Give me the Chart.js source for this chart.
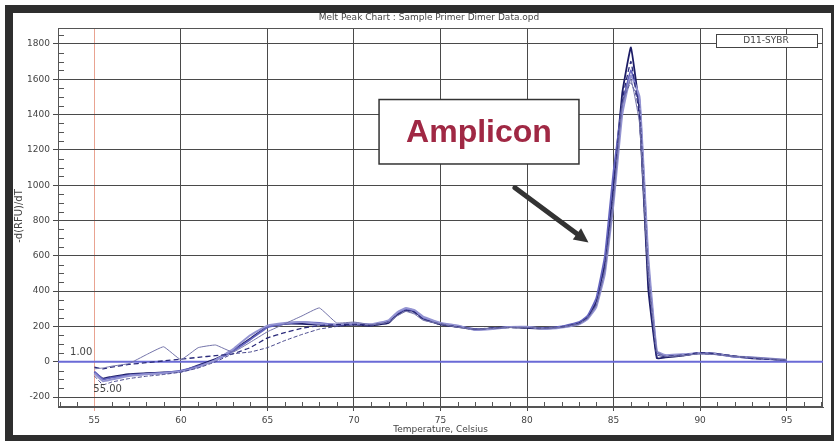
<!DOCTYPE html>
<html>
<head>
<meta charset="utf-8">
<title>Melt Peak Chart</title>
<script src="https://cdn.jsdelivr.net/npm/chart.js@4.4.1/dist/chart.umd.min.js"></script>
<style>
  html, body { margin: 0; padding: 0; background: #fff; }
  #wrap { width: 838px; height: 441px; }
</style>
</head>
<body>
<div id="wrap"><canvas id="meltChart" width="838" height="441"></canvas></div>
<script>
// temperature steps (finer around the melt peak)
const temps = [55, 55.5, 56, 57, 58, 59, 60, 61, 62, 63, 64, 65, 66, 67, 68, 69, 70, 71, 72, 72.5, 73, 73.5, 74,
  75, 76, 77, 78, 79, 80, 81, 82, 83, 83.5, 84, 84.5, 85, 85.5, 86, 86.5, 87, 87.5, 88, 89, 90, 91, 92, 93, 94, 95];

// -d(RFU)/dT for each replicate
const curveA = [-40, -35, -25, -10, 40, 85, 12, 80, 95, 55, 110, 170, 215, 260, 305, 220, 225, 210, 225, 260, 285, 270, 235,
  215, 195, 185, 190, 195, 195, 190, 195, 215, 245, 320, 520, 920, 1450, 1600, 1350, 500, 60, 30, 35, 45, 40, 30, 25, 18, 10];
const curveB = [-60, -95, -85, -70, -65, -60, -55, -20, 15, 65, 130, 200, 215, 215, 210, 205, 210, 205, 220, 270, 295, 285, 245,
  212, 198, 182, 190, 196, 192, 188, 198, 220, 255, 340, 560, 1000, 1520, 1780, 1420, 420, 20, 25, 35, 50, 45, 30, 20, 15, 10];
const curveC = [-55, -100, -90, -75, -68, -62, -50, -25, 10, 60, 125, 195, 215, 225, 220, 210, 215, 210, 230, 275, 300, 290, 250,
  218, 202, 186, 188, 198, 196, 192, 200, 225, 260, 360, 600, 1080, 1450, 1650, 1480, 560, 50, 35, 40, 48, 42, 28, 22, 16, 8];
const curveD = [-30, -40, -30, -15, -5, 5, 15, 25, 35, 45, 80, 135, 165, 190, 205, 210, 212, 208, 225, 265, 290, 280, 240,
  213, 198, 184, 192, 194, 193, 190, 197, 218, 250, 330, 540, 980, 1480, 1700, 1380, 460, 25, 30, 38, 52, 44, 32, 20, 14, 10];
const curveE = [-80, -130, -115, -95, -82, -72, -58, -35, 0, 45, 55, 80, 120, 155, 185, 200, 208, 204, 222, 262, 288, 275, 238,
  210, 196, 183, 189, 195, 194, 189, 196, 216, 248, 325, 530, 960, 1470, 1580, 1450, 520, 40, 28, 36, 46, 40, 30, 24, 15, 8];
const curveF = [-65, -110, -100, -80, -70, -65, -55, -30, 10, 70, 150, 205, 220, 225, 215, 210, 218, 212, 235, 280, 305, 292, 255,
  220, 205, 180, 186, 197, 198, 186, 194, 212, 242, 310, 500, 900, 1400, 1620, 1500, 600, 60, 38, 42, 50, 44, 30, 26, 18, 12];

const xTicks = [55, 60, 65, 70, 75, 80, 85, 90, 95];
const yTicks = [-200, 0, 200, 400, 600, 800, 1000, 1200, 1400, 1600, 1800];

const chartTitle = 'Melt Peak Chart : Sample Primer Dimer Data.opd';
const xTitle = 'Temperature, Celsius';
const yTitle = '-d(RFU)/dT';
const legendText = 'D11-SYBR';
const calloutText = 'Amplicon';

const series = [
  { data: curveA, color: '#7474aa', width: 1, dash: [] },
  { data: curveE, color: '#4a4a8e', width: 1, dash: [4, 2] },
  { data: curveD, color: '#2a2a7a', width: 1.3, dash: [5, 3] },
  { data: curveF, color: '#9494d2', width: 2, dash: [] },
  { data: curveC, color: '#6464be', width: 1.8, dash: [] },
  { data: curveB, color: '#1c1c66', width: 1.8, dash: [] }
];

const fontFam = '"DejaVu Sans", Verdana, sans-serif';
const calloutFont = '"Liberation Sans", Arial, sans-serif';

const meltDecor = {
  id: 'meltDecor',
  beforeDraw(chart) {
    const { ctx, width, height } = chart;
    ctx.save();
    ctx.fillStyle = '#fff';
    ctx.fillRect(0, 0, width, height);
    // window frame
    ctx.fillStyle = '#2e2e2e';
    ctx.fillRect(5, 5, 829, 8);
    ctx.fillRect(5, 5, 8, 436);
    ctx.fillRect(5, 435, 829, 6);
    ctx.fillRect(831, 5, 3, 436);
    ctx.restore();
  },
  beforeDatasetsDraw(chart) {
    const { ctx, chartArea: a, scales: { x, y } } = chart;
    ctx.save();
    ctx.strokeStyle = '#555';
    ctx.lineWidth = 1;
    ctx.strokeRect(a.left + 0.5, a.top + 0.5, a.right - a.left - 1, a.bottom - a.top - 1);
    // minor ticks
    ctx.beginPath();
    for (let t = Math.ceil(x.min); t <= x.max; t++) {
      if (t % 5 === 0) continue;
      const px = Math.round(x.getPixelForValue(t)) + 0.5;
      ctx.moveTo(px, a.bottom);
      ctx.lineTo(px, a.bottom - 5);
    }
    for (let v = -250; v <= y.max; v += 50) {
      if (v % 200 === 0) continue;
      const py = Math.round(y.getPixelForValue(v)) + 0.5;
      ctx.moveTo(a.left, py);
      ctx.lineTo(a.left + 6, py);
    }
    ctx.stroke();
    // baseline
    const y0 = y.getPixelForValue(0);
    ctx.strokeStyle = '#6a6ad6';
    ctx.lineWidth = 2;
    ctx.beginPath();
    ctx.moveTo(a.left, y0);
    ctx.lineTo(a.right, y0);
    ctx.stroke();
    ctx.restore();
  },
  afterDatasetsDraw(chart) {
    const { ctx, chartArea: a, scales: { x, y } } = chart;
    ctx.save();
    ctx.font = '9px ' + fontFam;
    ctx.fillStyle = '#444';
    ctx.textBaseline = 'middle';
    ctx.textAlign = 'center';
    ctx.fillText(chartTitle, 429, 18);
    ctx.fillText(xTitle, (a.left + a.right) / 2, 430);
    ctx.save();
    ctx.translate(19, 216);
    ctx.rotate(-Math.PI / 2);
    ctx.font = '10px ' + fontFam;
    ctx.fillText(yTitle, 0, 0);
    ctx.restore();

    // marker labels at start temperature
    const x55 = x.getPixelForValue(55);
    const y0 = y.getPixelForValue(0);
    ctx.font = '10px ' + fontFam;
    ctx.textAlign = 'right';
    ctx.fillText('1.00', x55 - 2, y0 - 9);
    ctx.textAlign = 'left';
    ctx.fillText('55.00', x55 - 1, y0 + 28);

    // legend box
    ctx.fillStyle = '#fff';
    ctx.fillRect(716, 34, 101, 13);
    ctx.strokeStyle = '#444';
    ctx.lineWidth = 1;
    ctx.strokeRect(716.5, 34.5, 101, 13);
    ctx.fillStyle = '#444';
    ctx.textAlign = 'center';
    ctx.font = '9px ' + fontFam;
    ctx.fillText(legendText, 766, 41);

    // callout box and arrow
    const bx0 = x.getPixelForValue(71.45), bx1 = x.getPixelForValue(83.0);
    const by0 = y.getPixelForValue(1485), by1 = y.getPixelForValue(1120);
    ctx.fillStyle = '#fff';
    ctx.fillRect(bx0, by0, bx1 - bx0, by1 - by0);
    ctx.strokeStyle = '#333';
    ctx.lineWidth = 1.5;
    ctx.strokeRect(bx0, by0, bx1 - bx0, by1 - by0);
    ctx.fillStyle = '#a02844';
    ctx.font = 'bold 32px ' + calloutFont;
    ctx.fillText(calloutText, (bx0 + bx1) / 2, (by0 + by1) / 2 + 1);

    const ax0 = x.getPixelForValue(79.3), ay0 = y.getPixelForValue(985);
    const ax1 = x.getPixelForValue(83.55), ay1 = y.getPixelForValue(676);
    const ang = Math.atan2(ay1 - ay0, ax1 - ax0);
    const head = 16;
    ctx.strokeStyle = '#333';
    ctx.fillStyle = '#333';
    ctx.lineWidth = 5;
    ctx.lineCap = 'round';
    ctx.beginPath();
    ctx.moveTo(ax0, ay0);
    ctx.lineTo(ax1 - head * 0.8 * Math.cos(ang), ay1 - head * 0.8 * Math.sin(ang));
    ctx.stroke();
    ctx.beginPath();
    ctx.moveTo(ax1, ay1);
    ctx.lineTo(ax1 - head * Math.cos(ang - 0.45), ay1 - head * Math.sin(ang - 0.45));
    ctx.lineTo(ax1 - head * Math.cos(ang + 0.45), ay1 - head * Math.sin(ang + 0.45));
    ctx.closePath();
    ctx.fill();
    ctx.restore();
  }
};

new Chart(document.getElementById('meltChart'), {
  type: 'line',
  data: {
    datasets: series.map((s, i) => ({
      label: 'Trace ' + (i + 1),
      data: temps.map((t, k) => ({ x: t, y: s.data[k] })),
      borderColor: s.color,
      borderWidth: s.width,
      borderDash: s.dash,
      pointRadius: 0,
      tension: 0.1,
      fill: false
    }))
  },
  options: {
    responsive: false,
    animation: false,
    devicePixelRatio: 1,
    layout: { padding: { top: 28, right: 15, left: 0, bottom: 0 } },
    plugins: { legend: { display: false }, tooltip: { enabled: false }, title: { display: false } },
    scales: {
      x: {
        type: 'linear',
        min: 52.9,
        max: 97.1,
        afterBuildTicks: s => { s.ticks = xTicks.map(v => ({ value: v })); },
        afterFit: s => { s.height = 34; },
        grid: {
          color: c => c.tick && c.tick.value === 55 ? '#e9a391' : '#4a4a4a',
          lineWidth: 1,
          tickLength: 4,
          drawTicks: true
        },
        border: { color: '#555' },
        ticks: {
          padding: 4,
          maxRotation: 0,
          color: '#444',
          font: { family: fontFam, size: 9 },
          callback: v => String(v)
        }
      },
      y: {
        type: 'linear',
        min: -256,
        max: 1890,
        afterBuildTicks: s => { s.ticks = yTicks.map(v => ({ value: v })); },
        afterFit: s => { s.width = 58; },
        grid: { color: '#4a4a4a', lineWidth: 1, tickLength: 5 },
        border: { color: '#555' },
        ticks: {
          padding: 3,
          color: '#444',
          font: { family: fontFam, size: 9 },
          callback: v => String(v)
        }
      }
    }
  },
  plugins: [meltDecor]
});
</script>
</body>
</html>
